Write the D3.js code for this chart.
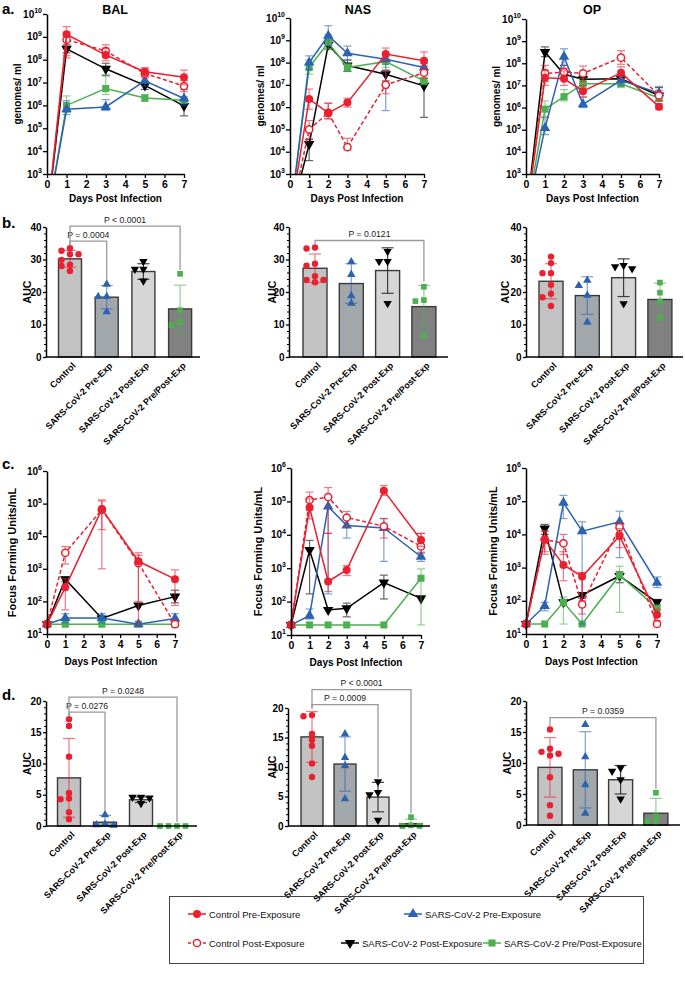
<!DOCTYPE html>
<html><head><meta charset="utf-8">
<script src="https://cdn.jsdelivr.net/npm/d3@7/dist/d3.min.js"></script>
<style>html,body{margin:0;padding:0;background:#fff}</style>
</head><body>
<svg id="fig" width="685" height="982" xmlns="http://www.w3.org/2000/svg" style="font-family:'Liberation Sans',Arial,Helvetica,sans-serif"></svg>
<script>
// ================= DATA =================
const seriesKeys=["cpre","spre","cpost","spost","spp"];
const seriesLabels=["Control Pre-Exposure","SARS-CoV-2 Pre-Exposure","Control Post-Exposure","SARS-CoV-2 Post-Exposure","SARS-CoV-2 Pre/Post-Exposure"];
const groupLabels=["Control","SARS-CoV-2 Pre-Exp","SARS-CoV-2 Post-Exp","SARS-CoV-2 Pre/Post-Exp"];
const groupSeries=["cpre","spre","spost","spp"];
const tissues=["BAL","NAS","OP"];
const daysBAL=[0,1,3,5,7];
const daysUp=[0,1,2,3,5,7];
const dayTicks=[0,1,2,3,4,5,6,7];
const genExp=[3,4,5,6,7,8,9,10];
const ffuExp=[1,2,3,4,5,6];

// ---- a: genomes/ml ----
const genBAL_cpre=[10,1.3e9,1.6e8,3e7,1.7e7];
const genBAL_cpreErr=[null,[1.5e8,2.8e9],[9e7,3.2e8],[2e7,4.5e7],[8e6,3.5e7]];
const genBAL_cpost=[10,7.5e8,2.4e8,2.5e7,7e6];
const genBAL_cpostErr=[null,[1.2e8,1.6e9],[1.2e8,4.5e8],[1.6e7,3.8e7],[4e6,1.2e7]];
const genBAL_spre=[10,6.8e5,8.6e5,1.2e7,2e6];
const genBAL_spreErr=[null,[4e5,1.6e6],[6e5,1.8e6],[7e6,1.9e7],[1e6,5e6]];
const genBAL_spost=[10,3e8,4e7,7.5e6,9.5e5];
const genBAL_spostErr=[null,[2e8,4.5e8],[2e7,7e7],[5e6,1.1e7],[3.5e5,1.6e6]];
const genBAL_spp=[10,1e6,5.5e6,2.1e6,1.7e6];
const genBAL_sppErr=[null,[5e5,2.6e6],[3e6,2.2e7],[1.5e6,3e6],[1.2e6,2.3e6]];

const genNAS_cpre=[10,2.3e6,5.5e5,1.6e6,2.4e8,1.2e8];
const genNAS_cpreErr=[null,[8e5,6.5e6],[3e5,1.5e6],[1e6,2.5e6],[1.2e8,4.5e8],[7e7,3e8]];
const genNAS_cpost=[10,1e5,5.5e5,1.6e4,1e7,3.5e7];
const genNAS_cpostErr=[null,[4e4,2.5e5],[3e5,1.5e6],[1.2e4,4e4],[4e6,4.5e7],[2e7,5e7]];
const genNAS_spre=[10,1e8,1.6e9,2.6e8,1.4e8,6e7];
const genNAS_spreErr=[null,[5e7,2e8],[6e8,4.5e9],[1.3e8,5.5e8],[7e5,2.5e8],[4e7,9e7]];
const genNAS_spost=[10,2.2e4,6.3e8,7.4e7,3e7,9e6];
const genNAS_spostErr=[null,[4e3,3.5e4],[4e8,1e9],[4e7,1.3e8],[1.5e7,4.5e7],[3.5e5,1.5e7]];
const genNAS_spp=[10,6e7,8e8,6e7,1.1e8,1.5e7];
const genNAS_sppErr=[null,[3e7,1.3e8],[4e8,1.8e9],[4e7,9e7],[6e7,2e8],[1e7,2e7]];

const genOP_cpre=[10,2.2e7,2e7,5.5e6,3.7e7,1.1e6];
const genOP_cpreErr=[null,[1e7,5e7],[1e7,4.5e7],[3e6,1e7],[2e7,7e7],[8e5,1.5e6]];
const genOP_cpost=[10,3.5e7,4e7,3.5e7,1.8e8,3.5e6];
const genOP_cpostErr=[null,[1.5e7,8e7],[2.5e7,6e7],[1.5e7,7.5e7],[9e7,3.7e8],[2e6,6e6]];
const genOP_spre=[10,1.2e5,2e8,1.4e6,1.7e7,4.5e6];
const genOP_spreErr=[null,[6e4,3.5e5],[8e7,4.5e8],[1e6,3e6],[1e7,2.5e7],[3e6,9e6]];
const genOP_spost=[10,3.2e8,3.2e7,1.9e7,2e7,3.5e6];
const genOP_spostErr=[null,[2e8,5.5e8],[2e7,8e7],[1.2e7,2.5e7],[1.4e7,3e7],[2e6,8e6]];
const genOP_spp=[10,8.5e5,3.1e6,1.2e7,1.2e7,2.7e6];
const genOP_sppErr=[null,[4e5,2e6],[2e6,6.5e6],[8e6,2e7],[8e6,1.8e7],[2e6,4e6]];

// ---- c: focus forming units/mL ----
const ffuBAL_cpre=[20,270,6.8e4,1.7e3,480];
const ffuBAL_cpreErr=[null,[55,500],[1e3,1.2e5],[20,2.6e3],[75,930]];
const ffuBAL_cpost=[20,3.1e3,6.5e4,1.5e3,20];
const ffuBAL_cpostErr=[null,[1.4e3,4.8e3],[1.6e4,1.3e5],[100,3.1e3],null];
const ffuBAL_spre=[20,31,31,20,30];
const ffuBAL_spreErr=[null,[22,42],[22,42],null,[22,42]];
const ffuBAL_spost=[20,480,30,75,140];
const ffuBAL_spostErr=[null,[400,560],null,null,[90,220]];
const ffuBAL_spp=[20,20,20,20,20];
const ffuBAL_sppErr=[null,null,null,null,null];

const ffuNAS_cpre=[20,6.6e4,400,890,2.1e5,7e3];
const ffuNAS_cpreErr=[null,[3e4,1.2e5],[200,1.1e4],[600,1.2e3],[1.5e5,3e5],[4.5e3,1.1e4]];
const ffuNAS_cpost=[20,1.1e5,1.35e5,3.3e4,1.8e4,4.5e3];
const ffuNAS_cpostErr=[null,[5.5e4,1.9e5],[1.1e4,2.6e5],[1.8e4,5e4],[8e3,3.1e4],[2.8e3,1.1e4]];
const ffuNAS_spre=[20,38,7e4,1.9e4,1.6e4,2.2e3];
const ffuNAS_spreErr=[null,[30,60],[170,1.3e5],[8e3,3e4],[1.6e3,3e4],[1.6e3,3e3]];
const ffuNAS_spost=[20,3.5e3,56,63,370,125];
const ffuNAS_spostErr=[null,[170,6.8e3],null,[35,90],[120,620],null];
const ffuNAS_spp=[20,20,20,20,20,500];
const ffuNAS_sppErr=[null,null,null,null,null,[20,950]];

const ffuOP_cpre=[20,7e3,1.2e3,540,9e3,38];
const ffuOP_cpreErr=[null,[2.5e3,1.2e4],[400,3e3],[100,700],[4e3,1.5e4],[25,55]];
const ffuOP_cpost=[20,7e3,5.4e3,78,1.65e4,20];
const ffuOP_cpostErr=[null,[3e3,1.3e4],[2.5e3,1e4],[40,700],[1e4,2.2e4],null];
const ffuOP_spre=[20,70,9e4,1.25e4,2.4e4,350];
const ffuOP_spreErr=[null,[50,90],[3e4,1.5e5],[20,2.4e4],[2e3,5e4],[250,520]];
const ffuOP_spost=[20,1.5e4,90,150,560,90];
const ffuOP_spostErr=[null,[1e4,2e4],null,[120,170],[350,750],[75,110]];
const ffuOP_spp=[20,20,90,20,590,60];
const ffuOP_sppErr=[null,null,[20,130],null,[45,1.1e3],null];

// ---- b: AUC of genomes ----
const aucGenBAL_bars=[30.2,18.4,26.3,14.8];
const aucGenBAL_sd=[2.6,3.6,2.4,7.3];
const aucGenBAL_ctrl=[33.5,32.7,31.6,31.6,29.9,28.4,28.0,26.5];
const aucGenBAL_pre=[22.4,18.6,18.6,13.9];
const aucGenBAL_post=[29.4,27.0,27.0,23.4];
const aucGenBAL_pp=[25.6,14.4,10.7,9.8];
const aucGenBAL_p=[[0,1,"P = 0.0004"],[0,3,"P < 0.0001"]];

const aucGenNAS_bars=[27.3,22.6,26.6,15.5];
const aucGenNAS_sd=[4.4,6.1,7.0,6.5];
const aucGenNAS_ctrl=[33.7,33.4,28.7,28.1,24.9,23.7,23.7,23.0];
const aucGenNAS_pre=[29.3,25.4,18.8,16.5];
const aucGenNAS_post=[32.5,29.4,29.4,16.5];
const aucGenNAS_pp=[21.6,17.5,17.2,6.5];
const aucGenNAS_p=[[0,3,"P = 0.0121"]];

const aucGenOP_bars=[23.3,18.9,24.4,17.7];
const aucGenOP_sd=[5.4,5.8,5.8,5.0];
const aucGenOP_ctrl=[30.9,28.9,25.8,25.8,22.2,19.5,18.4,15.7];
const aucGenOP_pre=[23.6,22.0,19.0,10.7];
const aucGenOP_post=[28.2,27.8,27.2,16.4];
const aucGenOP_pp=[22.9,19.8,17.0,11.9];
const aucGenOP_p=[];

// ---- d: AUC of FFU ----
const aucFfuBAL_bars=[7.7,0.6,4.2,0];
const aucFfuBAL_sd=[6.3,1.1,0.45,0];
const aucFfuBAL_ctrl=[17.1,16.0,11.1,5.3,4.4,4.3,2.2,1.1];
const aucFfuBAL_pre=[1.8,0.3,0.2,0.1];
const aucFfuBAL_post=[4.6,4.6,4.5,3.6];
const aucFfuBAL_pp=[0,0,0,0];
const aucFfuBAL_p=[[0,1,"P = 0.0276"],[0,3,"P = 0.0248"]];

const aucFfuNAS_bars=[15.1,10.5,4.9,0.4];
const aucFfuNAS_sd=[4.3,4.6,2.5,0.75];
const aucFfuNAS_ctrl=[18.8,18.6,15.6,14.6,13.6,10.6,8.3];
const aucFfuNAS_pre=[15.6,11.6,10.2,4.6];
const aucFfuNAS_post=[7.5,5.7,5.3,1.0];
const aucFfuNAS_pp=[1.5,0.1,0,0];
const aucFfuNAS_p=[[0,2,"P = 0.0009"],[0,3,"P < 0.0001"]];

const aucFfuOP_bars=[9.3,8.9,7.3,1.9];
const aucFfuOP_sd=[4.8,6.15,2.3,2.4];
const aucFfuOP_ctrl=[15.4,12.3,11.8,11.5,11.2,7.7,3.2,1.5];
const aucFfuOP_pre=[16.2,11.0,6.5,1.9];
const aucFfuOP_post=[9.2,8.7,7.3,4.2];
const aucFfuOP_pp=[5.2,1.4,0.6,0.4];
const aucFfuOP_p=[[0,3,"P = 0.0359"]];

// ================= STYLE =================
const COL={cpre:"#E8202F",cpost:"#E8202F",spre:"#2C62B2",spost:"#000000",spp:"#4CAF50"};
const BARFILL=["#C2C2C2","#A2A7AC","#D5D6D5","#818181"];
const svg=d3.select("#fig");
let clipN=0;

function drawMarker(g,key,cx,cy,s){
  const c=COL[key];
  if(key==="cpre"||key==="cpost"){
    g.append("circle").attr("cx",cx).attr("cy",cy).attr("r",(key==="cpost"?3.6:4)*s)
      .attr("fill",key==="cpost"?"#fff":c).attr("stroke",c).attr("stroke-width",key==="cpost"?1.5:0);
  } else {
    const type=key==="spp"?d3.symbolSquare:d3.symbolTriangle;
    const area=(key==="spp"?50:48)*s*s;
    g.append("path").attr("d",d3.symbol().type(type).size(area)())
      .attr("transform",`translate(${cx},${cy})${key==="spost"?" rotate(180)":""}`)
      .attr("fill",c);
  }
}
function styleAxis(a){
  a.selectAll("path.domain").attr("stroke","#000").attr("stroke-width",1.5);
  a.selectAll(".tick line").attr("stroke","#000").attr("stroke-width",1.3);
  a.selectAll(".tick text").attr("font-weight","bold").attr("fill","#000");
}
function yTitle(x,y,txt,size){
  svg.append("text").attr("transform",`translate(${x},${y}) rotate(-90)`).attr("text-anchor","middle")
    .attr("dy","0.35em").attr("font-weight","bold").attr("font-size",size).text(txt);
}

function linePanel(o){
  const g=svg.append("g");
  const x=d3.scaleLinear().domain([0,7]).range([o.x0,o.x1]);
  const y=d3.scaleLog().domain(o.ydom).range([o.yb,o.yt]);
  const pg=g.append("g");
  if(o.clip){
    const id="clip"+(clipN++);
    svg.append("clipPath").attr("id",id).append("rect").attr("x",o.x0-8).attr("y",o.yt-25)
      .attr("width",o.x1-o.x0+16).attr("height",o.yb-o.yt+25);
    pg.attr("clip-path",`url(#${id})`);
  }
  const order=["spost","spp","spre","cpost","cpre"];
  order.forEach(k=>{
    const vals=o.series[k][0], errs=o.series[k][1];
    const pts=o.days.map((d,i)=>({d,v:vals[i],e:errs[i]}));
    const eg=pg.append("g").attr("stroke",COL[k]).attr("stroke-width",1.2).attr("opacity",0.6);
    pts.forEach(p=>{
      if(!p.e) return;
      const px=x(p.d), y0=y(p.e[0]), y1=y(p.e[1]);
      eg.append("line").attr("x1",px).attr("x2",px).attr("y1",y0).attr("y2",y1);
      eg.append("line").attr("x1",px-4).attr("x2",px+4).attr("y1",y0).attr("y2",y0);
      eg.append("line").attr("x1",px-4).attr("x2",px+4).attr("y1",y1).attr("y2",y1);
    });
    pg.append("path").datum(pts).attr("d",d3.line().x(p=>x(p.d)).y(p=>y(p.v)))
      .attr("fill","none").attr("stroke",COL[k]).attr("stroke-width",1.5)
      .attr("stroke-dasharray",k==="cpost"?"4,2.5":null);
    pts.forEach(p=>drawMarker(pg,k,x(p.d),y(p.v),1));
  });
  // axes
  const ticks=o.exps.map(e=>Math.pow(10,e));
  const ya=g.append("g").attr("transform",`translate(${o.x0},0)`)
    .call(d3.axisLeft(y).tickValues(ticks).tickFormat("").tickSize(4).tickSizeOuter(0));
  styleAxis(ya);
  o.exps.forEach(e=>{
    const t=g.append("text").attr("x",o.x0-5).attr("y",y(Math.pow(10,e))+3.6).attr("text-anchor","end")
      .attr("font-weight","bold").attr("font-size",10);
    t.append("tspan").text("10");
    t.append("tspan").attr("dy",-4.5).attr("font-size",7).text(e);
  });
  const xa=g.append("g").attr("transform",`translate(0,${o.yb})`)
    .call(d3.axisBottom(x).tickValues(dayTicks).tickFormat(d3.format("d")).tickSize(4).tickSizeOuter(0));
  styleAxis(xa);
  xa.selectAll(".tick text").attr("font-size",10.5);
  g.append("text").attr("x",(o.x0+o.x1)/2).attr("y",o.yb+o.xtY).attr("text-anchor","middle")
    .attr("font-weight","bold").attr("font-size",10).text("Days Post Infection");
  yTitle(o.x0-o.ytOff,(o.yt+o.yb)/2,o.ytitle,o.ytSize);
  if(o.title) g.append("text").attr("x",o.titleX).attr("y",o.titleY).attr("text-anchor","middle")
    .attr("font-weight","bold").attr("font-size",12.5).text(o.title);
}

function dodge(vals,yfn,step,minD){
  const placed=[];
  return vals.map(v=>{
    const py=yfn(v);
    for(const k of [0,-1,1,-2,2,-3,3]){
      const ox=k*step;
      if(placed.every(p=>Math.hypot(p.x-ox,p.y-py)>=minD)){placed.push({x:ox,y:py});return ox;}
    }
    return 0;
  });
}

function barPanel(o){
  const g=svg.append("g");
  const x=d3.scalePoint().domain(groupLabels).range([o.c0,o.c0+3*o.step]);
  const y=d3.scaleLinear().domain([0,o.ymax]).range([o.yb,o.yt]);
  groupLabels.forEach((lab,i)=>{
    if(o.bars[i]<=0) return;
    g.append("rect").attr("x",x(lab)-o.bw/2).attr("y",y(o.bars[i])).attr("width",o.bw)
      .attr("height",o.yb-y(o.bars[i])).attr("fill",BARFILL[i]).attr("stroke","#3a3a3a").attr("stroke-width",1.4);
  });
  groupLabels.forEach((lab,i)=>{
    if(o.sd[i]<=0) return;
    const k=groupSeries[i];
    const c=k==="spost"?"#222":COL[k];
    const eg=g.append("g").attr("stroke",c).attr("stroke-width",1.2).attr("opacity",k==="spost"?0.85:0.6);
    const cx=x(lab), y0=y(Math.max(0,o.bars[i]-o.sd[i])), y1=y(o.bars[i]+o.sd[i]);
    eg.append("line").attr("x1",cx).attr("x2",cx).attr("y1",y0).attr("y2",y1);
    eg.append("line").attr("x1",cx-6).attr("x2",cx+6).attr("y1",y1).attr("y2",y1);
    if(o.bars[i]-o.sd[i]>0) eg.append("line").attr("x1",cx-6).attr("x2",cx+6).attr("y1",y0).attr("y2",y0);
  });
  groupLabels.forEach((lab,i)=>{
    const k=groupSeries[i];
    const offs=dodge(o.points[i],y,8.5,5.6);
    o.points[i].forEach((v,j)=>drawMarker(g,k,x(lab)+offs[j],y(v),0.8));
  });
  // axes
  const ya=g.append("g").attr("transform",`translate(${o.x0},0)`)
    .call(d3.axisLeft(y).tickValues(d3.range(0,o.ymax+0.001,o.major)).tickSize(3).tickPadding(1.5).tickSizeOuter(0));
  styleAxis(ya);
  ya.selectAll(".tick text").attr("font-size",10);
  g.append("g").attr("transform",`translate(${o.x0},0)`)
    .call(d3.axisLeft(y).tickValues(d3.range(0,o.ymax+0.001,o.minor).filter(v=>Math.abs(v/o.major-Math.round(v/o.major))>1e-6)).tickSize(2).tickFormat("").tickSizeOuter(0))
    .call(a=>{a.select("path.domain").remove();a.selectAll(".tick line").attr("stroke","#000").attr("stroke-width",1);});
  g.append("line").attr("x1",o.x0).attr("x2",o.xEnd).attr("y1",o.yb).attr("y2",o.yb).attr("stroke","#000").attr("stroke-width",1.5);
  groupLabels.forEach(lab=>{
    g.append("text").attr("transform",`translate(${x(lab)+4},${o.yb+7}) rotate(-45)`)
      .attr("text-anchor","end").attr("dy","0.35em").attr("font-weight","bold").attr("font-size",9).text(lab);
  });
  yTitle(o.x0-o.ytOff,(o.yt+o.yb)/2,"AUC",10.5);
  // brackets
  const topOf=i=>Math.max(d3.max(o.points[i]),o.bars[i]+o.sd[i]);
  o.brackets.forEach((b,lev)=>{
    const [i0,i1,label]=b;
    const m=d3.max(d3.range(i0,i1+1),topOf);
    const ly=y(m)-7-15*lev;
    const xa0=x(groupLabels[i0]), xa1=x(groupLabels[i1]);
    const bg=g.append("g").attr("stroke","#9a9a9a").attr("stroke-width",1.3).attr("fill","none");
    bg.append("path").attr("d",`M${xa0},${y(topOf(i0))-3}V${ly}H${xa1}V${y(topOf(i1))-4}`);
    g.append("text").attr("x",(xa0+xa1)/2).attr("y",ly-3.5).attr("text-anchor","middle")
      .attr("font-size",8.7).attr("fill","#222").text(label);
  });
}

// ================= PANELS =================
const genData={
  BAL:{days:daysBAL,series:{cpre:[genBAL_cpre,genBAL_cpreErr],cpost:[genBAL_cpost,genBAL_cpostErr],spre:[genBAL_spre,genBAL_spreErr],spost:[genBAL_spost,genBAL_spostErr],spp:[genBAL_spp,genBAL_sppErr]}},
  NAS:{days:daysUp,series:{cpre:[genNAS_cpre,genNAS_cpreErr],cpost:[genNAS_cpost,genNAS_cpostErr],spre:[genNAS_spre,genNAS_spreErr],spost:[genNAS_spost,genNAS_spostErr],spp:[genNAS_spp,genNAS_sppErr]}},
  OP:{days:daysUp,series:{cpre:[genOP_cpre,genOP_cpreErr],cpost:[genOP_cpost,genOP_cpostErr],spre:[genOP_spre,genOP_spreErr],spost:[genOP_spost,genOP_spostErr],spp:[genOP_spp,genOP_sppErr]}}
};
const ffuData={
  BAL:{days:daysBAL,series:{cpre:[ffuBAL_cpre,ffuBAL_cpreErr],cpost:[ffuBAL_cpost,ffuBAL_cpostErr],spre:[ffuBAL_spre,ffuBAL_spreErr],spost:[ffuBAL_spost,ffuBAL_spostErr],spp:[ffuBAL_spp,ffuBAL_sppErr]}},
  NAS:{days:daysUp,series:{cpre:[ffuNAS_cpre,ffuNAS_cpreErr],cpost:[ffuNAS_cpost,ffuNAS_cpostErr],spre:[ffuNAS_spre,ffuNAS_spreErr],spost:[ffuNAS_spost,ffuNAS_spostErr],spp:[ffuNAS_spp,ffuNAS_sppErr]}},
  OP:{days:daysUp,series:{cpre:[ffuOP_cpre,ffuOP_cpreErr],cpost:[ffuOP_cpost,ffuOP_cpostErr],spre:[ffuOP_spre,ffuOP_spreErr],spost:[ffuOP_spost,ffuOP_spostErr],spp:[ffuOP_spp,ffuOP_sppErr]}}
};
const aucGen={
  BAL:{bars:aucGenBAL_bars,sd:aucGenBAL_sd,points:[aucGenBAL_ctrl,aucGenBAL_pre,aucGenBAL_post,aucGenBAL_pp],brackets:aucGenBAL_p},
  NAS:{bars:aucGenNAS_bars,sd:aucGenNAS_sd,points:[aucGenNAS_ctrl,aucGenNAS_pre,aucGenNAS_post,aucGenNAS_pp],brackets:aucGenNAS_p},
  OP:{bars:aucGenOP_bars,sd:aucGenOP_sd,points:[aucGenOP_ctrl,aucGenOP_pre,aucGenOP_post,aucGenOP_pp],brackets:aucGenOP_p}
};
const aucFfu={
  BAL:{bars:aucFfuBAL_bars,sd:aucFfuBAL_sd,points:[aucFfuBAL_ctrl,aucFfuBAL_pre,aucFfuBAL_post,aucFfuBAL_pp],brackets:aucFfuBAL_p},
  NAS:{bars:aucFfuNAS_bars,sd:aucFfuNAS_sd,points:[aucFfuNAS_ctrl,aucFfuNAS_pre,aucFfuNAS_post,aucFfuNAS_pp],brackets:aucFfuNAS_p},
  OP:{bars:aucFfuOP_bars,sd:aucFfuOP_sd,points:[aucFfuOP_ctrl,aucFfuOP_pre,aucFfuOP_post,aucFfuOP_pp],brackets:aucFfuOP_p}
};

const layA={BAL:{x0:47,x1:184,yt:14,yb:174,ytOff:30,titleX:115,titleY:14},
            NAS:{x0:290,x1:424,yt:18,yb:174,ytOff:30,titleX:358,titleY:14},
            OP:{x0:526,x1:659,yt:19,yb:174,ytOff:30,titleX:592,titleY:14}};
const layC={BAL:{x0:47,x1:175,yt:471,yb:634,ytOff:35},
            NAS:{x0:291,x1:421,yt:468,yb:635,ytOff:33},
            OP:{x0:526,x1:657,yt:468,yb:634,ytOff:33}};
const layB={BAL:{x0:46,xEnd:200,c0:70,step:36.7,bw:23,yt:227,yb:357,ytOff:19},
            NAS:{x0:289,xEnd:448,c0:315,step:36.3,bw:24,yt:227,yb:357,ytOff:17},
            OP:{x0:526,xEnd:683,c0:551,step:36.3,bw:24,yt:227,yb:357,ytOff:21}};
const layD={BAL:{x0:46,xEnd:197,c0:69,step:36,bw:23,yt:701,yb:826,ytOff:19},
            NAS:{x0:288,xEnd:430,c0:312,step:33,bw:22,yt:708,yb:826,ytOff:16},
            OP:{x0:526,xEnd:680,c0:550,step:35.3,bw:24,yt:701,yb:825,ytOff:19}};

tissues.forEach(t=>{
  linePanel(Object.assign({},layA[t],genData[t],{ydom:[1e3,1e10],exps:genExp,clip:true,ytitle:"genomes/ ml",ytSize:10,xtY:28,title:t}));
  linePanel(Object.assign({},layC[t],ffuData[t],{ydom:[10,1e6],exps:ffuExp,clip:false,ytitle:"Focus Forming Units/mL",ytSize:11,xtY:31}));
  barPanel(Object.assign({},layB[t],aucGen[t],{ymax:40,major:10,minor:2}));
  barPanel(Object.assign({},layD[t],aucFfu[t],{ymax:20,major:5,minor:1}));
});

// panel letters
[["a.",2,14],["b.",2,228],["c.",2,469],["d.",2,700]].forEach(([t,x,y])=>{
  svg.append("text").attr("x",x).attr("y",y).attr("font-weight","bold").attr("font-size",15).text(t);
});

// legend
const lg=svg.append("g");
lg.append("rect").attr("x",169.5).attr("y",896.5).attr("width",474).attr("height",67)
  .attr("fill","none").attr("stroke","#444").attr("stroke-width",1);
const legendPos=[[197,914],[413,914],[197,943],[350,943],[492,943]];
seriesKeys.forEach((k,i)=>{
  const [lx,ly]=legendPos[i];
  lg.append("line").attr("x1",lx-9).attr("x2",lx+9).attr("y1",ly).attr("y2",ly)
    .attr("stroke",COL[k]).attr("stroke-width",1.5).attr("stroke-dasharray",k==="cpost"?"3,2":null);
  drawMarker(lg,k,lx,ly,1);
  lg.append("text").attr("x",lx+12).attr("y",ly+3.5).attr("font-size",9.5).attr("fill","#111").text(seriesLabels[i]);
});
</script></body></html>
